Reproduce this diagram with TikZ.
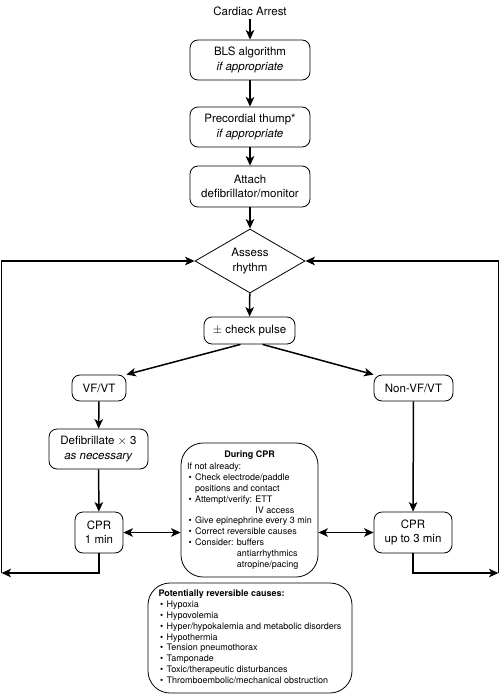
\documentclass[tikz,border=0pt]{standalone}
\usepackage{fontspec}
\setmainfont{TeX Gyre Heros}
\usetikzlibrary{shapes.geometric,arrows.meta,calc}
\newcommand\myblt{\hspace{1.5pt}\textbullet\hspace{3.5pt}}
\begin{document}
\begin{tikzpicture}[x=1pt,y=-1pt,
  main/.style={font=\fontsize{11.5}{14.2}\selectfont},
  box/.style={main,draw,line width=0.8pt,rounded corners=8pt,align=center,inner sep=0pt},
  bigbox/.style={draw,line width=0.8pt,rounded corners=22pt,inner sep=0pt,font=\fontsize{9}{10.8}\selectfont},
  tip/.tip={Stealth[length=9.5pt,width=8.5pt,inset=2.5pt]},
  arr/.style={line width=1.5pt,-tip},
  darr/.style={line width=1.5pt,tip-tip},
  link/.style={line width=1.5pt}
]
\useasboundingbox (0,0) rectangle (500,695);

\node[main] (start) at (250,11) {Cardiac Arrest};
\node[box,minimum width=120pt,minimum height=40pt] (bls) at (250,60) {BLS algorithm\\\textit{if appropriate}};
\node[box,minimum width=120pt,minimum height=40pt] (thump) at (250,127) {Precordial thump*\\\textit{if appropriate}};
\node[box,minimum width=120pt,minimum height=41pt] (attach) at (250,186.5) {Attach\\defibrillator/monitor};
\node[main,draw,diamond,line width=0.8pt,aspect=1.72,minimum width=110pt,minimum height=64pt,inner sep=0pt,align=center] (assess) at (250,261) {Assess\\rhythm};
\node[box,minimum width=91pt,minimum height=27pt] (pulse) at (249.5,330.5) {$\pm$ check pulse};
\node[box,minimum width=54pt,minimum height=26pt] (vf) at (99,388) {VF/VT};
\node[box,minimum width=79pt,minimum height=26pt] (nonvf) at (413.5,388) {Non-VF/VT};
\node[box,minimum width=99pt,minimum height=40pt] (defib) at (98.5,449) {Defibrillate $\times$ 3\\\textit{as necessary}};
\node[box,minimum width=48pt,minimum height=41pt] (cpr1) at (99,532.5) {CPR\\1 min};
\node[box,minimum width=78pt,minimum height=41pt] (cpr3) at (413,532.5) {CPR\\up to 3 min};

\node[bigbox,minimum width=137pt,minimum height=134pt] (during) at (249.5,510) {%
\begin{tabular}{@{}l@{}}
\multicolumn{1}{@{}c@{}}{\bfseries During CPR}\\[2pt]
If not already:\\
\myblt Check electrode/paddle\\
\phantom{\myblt}positions and contact\\
\myblt Attempt/verify: ETT\\
\phantom{\myblt Attempt/verify: }IV access\\
\myblt Give epinephrine every 3 min\\
\myblt Correct reversible causes\\
\myblt Consider: buffers\\
\phantom{\myblt Consider: }antiarrhythmics\\
\phantom{\myblt Consider: }atropine/pacing
\end{tabular}};

\node[bigbox,minimum width=204pt,minimum height=110pt] (causes) at (250,638) {%
\begin{tabular}{@{}l@{}}
\bfseries Potentially reversible causes:\\
\myblt Hypoxia\\
\myblt Hypovolemia\\
\myblt Hyper/hypokalemia and metabolic disorders\\
\myblt Hypothermia\\
\myblt Tension pneumothorax\\
\myblt Tamponade\\
\myblt Toxic/therapeutic disturbances\\
\myblt Thromboembolic/mechanical obstruction
\end{tabular}};

\coordinate (bl) at (1.5,573);
\coordinate (br) at (498.5,573);

\draw[arr] (start) -- (bls);
\draw[arr] (bls) -- (thump);
\draw[arr] (thump) -- (attach);
\draw[arr] (attach) -- (assess);
\draw[arr] (assess) -- (pulse);
\draw[arr] ([xshift=-9pt]pulse.south) -- (vf.north east);
\draw[arr] ([xshift=13pt]pulse.south) -- (nonvf.north west);
\draw[arr] (vf) -- (defib);
\draw[arr] (defib) -- (cpr1);
\draw[arr] (nonvf) -- (cpr3);
\draw[darr] (cpr1.east) -- (cpr1.east -| during.west);
\draw[darr] (cpr3.west) -- (cpr3.west -| during.east);
\draw[arr] (cpr1.south) |- (bl);
\draw[arr] (cpr3.south) |- (br);
\draw[arr] (bl) |- (assess.west);
\draw[arr] (br) |- (assess.east);
\end{tikzpicture}
\end{document}
